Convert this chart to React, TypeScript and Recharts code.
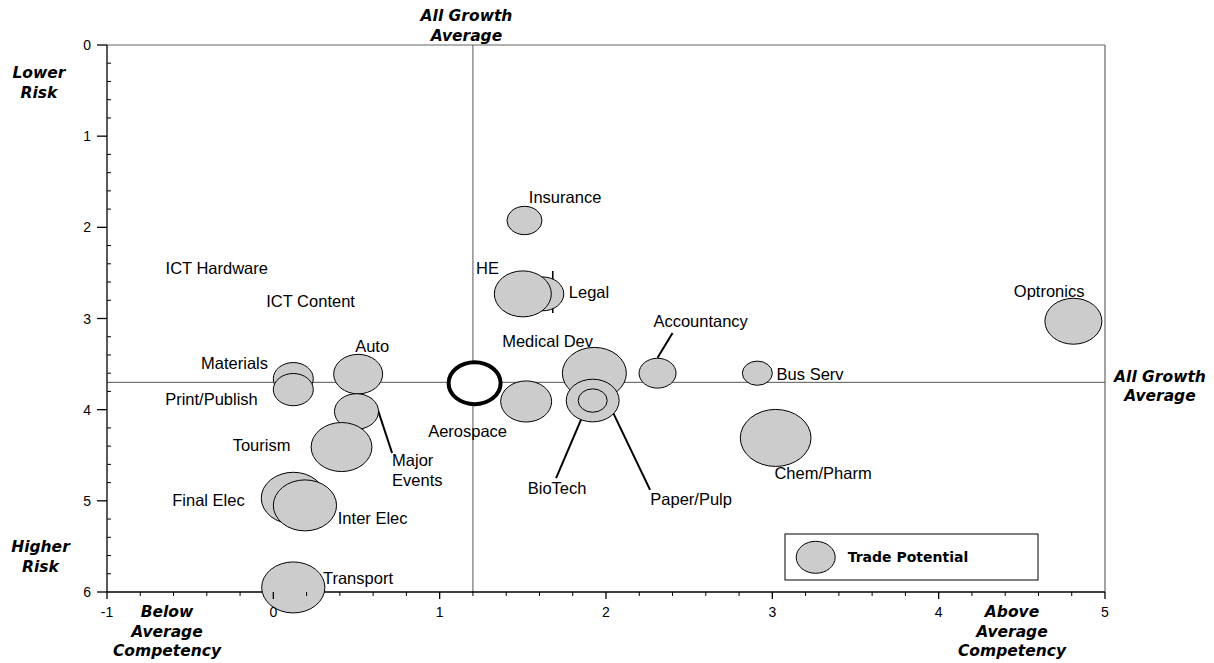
import React from 'react';
import { ScatterChart, Scatter, XAxis, YAxis, ZAxis, ReferenceLine } from 'recharts';

// sectors, in drawing order (later ones sit on top)
const sectorNames = [
  'Materials', 'Print/Publish', 'Auto', 'Major Events', 'Tourism', 'Final Elec', 'Inter Elec',
  'Transport', 'Insurance', 'Legal', 'HE', 'Medical Dev', 'Unlabelled', 'BioTech', 'Paper/Pulp',
  'Accountancy', 'Bus Serv', 'Chem/Pharm', 'Optronics',
];
const competency = [0.12, 0.12, 0.51, 0.5, 0.41, 0.12, 0.19, 0.12, 1.51, 1.62, 1.5, 1.93, 1.52, 1.92, 1.92, 2.31, 2.91, 3.02, 4.81];
const risk = [3.66, 3.78, 3.61, 4.02, 4.41, 4.97, 5.05, 5.95, 1.925, 2.73, 2.73, 3.6, 3.91, 3.9, 3.9, 3.6, 3.6, 4.31, 3.03];
const tradePotential = [16, 16, 24, 19.4, 37, 41, 40, 40, 12.3, 17.6, 32.5, 41, 26, 28, 8.4, 13.7, 9, 50, 32.5];

// highlighted sector (open ring)
const highlight = [{ name: 'Aerospace', x: 1.21, y: 3.71, z: 27 }];

const avgCompetency = 1.2;
const avgRisk = 3.7;

// label anchors (data units)
const labelNames = [
  'ICT Hardware', 'ICT Content', 'Materials', 'Print/Publish', 'Auto', 'Tourism', 'Final Elec',
  'Inter Elec', 'Transport', 'Aerospace', 'Insurance', 'HE', 'Legal', 'Medical Dev', 'Accountancy',
  'Bus Serv', 'BioTech', 'Paper/Pulp', 'Chem/Pharm', 'Optronics',
];
const labelX = [-0.34, 0.224, -0.233, -0.372, 0.594, -0.071, -0.39, 0.597, 0.509, 1.168, 1.754, 1.288, 1.898, 1.649, 2.569, 3.227, 1.706, 2.512, 3.305, 4.664];
const labelY = [2.446, 2.81, 3.49, 3.88, 3.3, 4.39, 4.99, 5.19, 5.85, 4.23, 1.667, 2.446, 2.71, 3.25, 3.03, 3.61, 4.86, 4.98, 4.69, 2.7];
const majorEventsLabel = { x: 0.714, y: 4.66, lines: ['Major', 'Events'] };

// leader lines [x1, y1, x2, y2]
const leaders = [
  [0.63, 4.01, 0.714, 4.475],
  [2.31, 3.43, 2.4, 3.16],
  [1.85, 4.11, 1.7, 4.75],
  [2.005, 3.89, 2.265, 4.88],
];
const legalMark = [1.68, 2.48, 1.68, 2.94];

const xTicks = [-1, -0.8, -0.6, -0.4, -0.2, 0, 0.2, 0.4, 0.6, 0.8, 1, 1.2, 1.4, 1.6, 1.8, 2, 2.2, 2.4, 2.6, 2.8, 3, 3.2, 3.4, 3.6, 3.8, 4, 4.2, 4.4, 4.6, 4.8, 5];
const yTicks = [0, 0.2, 0.4, 0.6, 0.8, 1, 1.2, 1.4, 1.6, 1.8, 2, 2.2, 2.4, 2.6, 2.8, 3, 3.2, 3.4, 3.6, 3.8, 4, 4.2, 4.4, 4.6, 4.8, 5, 5.2, 5.4, 5.6, 5.8, 6];

const sectors = sectorNames.map((name, i) => ({ name, x: competency[i], y: risk[i], z: tradePotential[i] }));
const labels = labelNames.map((name, i) => ({ name, x: labelX[i], y: labelY[i] }));

const ASPECT = 1.1136;
const TICK_FONT = '"Liberation Sans", Arial, sans-serif';
const LABEL_FONT = '"Liberation Sans", Arial, sans-serif';
const TITLE_FONT = '"DejaVu Sans", Verdana, sans-serif';

const isMajor = (v: number) => Math.abs(v - Math.round(v)) < 1e-6;

const Bubble = (props: any) => {
  const { cx, cy, size } = props;
  const r = Math.sqrt((size || 0) / Math.PI);
  return <ellipse cx={cx} cy={cy} rx={r * ASPECT} ry={r / ASPECT} fill="#cccccc" stroke="#000" strokeWidth={1} />;
};

const Ring = (props: any) => {
  const { cx, cy, size } = props;
  const r = Math.sqrt((size || 0) / Math.PI);
  return <ellipse cx={cx} cy={cy} rx={r * ASPECT} ry={r / ASPECT} fill="#fff" stroke="#000" strokeWidth={4} />;
};

const SectorLabel = (props: any) => {
  const { cx, cy, payload } = props;
  return (
    <text x={cx} y={cy} dy="0.36em" textAnchor="middle" fontFamily={LABEL_FONT} fontSize={16.5} fill="#000">
      {payload.name}
    </text>
  );
};

const MultiLabel = (props: any) => {
  const { cx, cy, payload } = props;
  return (
    <text x={cx} y={cy} textAnchor="start" fontFamily={LABEL_FONT} fontSize={16.5} fill="#000">
      {payload.lines.map((l: string, i: number) => (
        <tspan key={i} x={cx} y={cy - 4 + i * 20}>{l}</tspan>
      ))}
    </text>
  );
};

const YTick = (props: any) => {
  const { x, y, payload } = props;
  const v = payload.value;
  if (isMajor(v)) {
    return (
      <g>
        <line x1={x - 10} y1={y} x2={x} y2={y} stroke="#000" strokeWidth={1.3} />
        <text x={x - 16} y={y + 5} textAnchor="end" fontFamily={TICK_FONT} fontSize={14} fill="#000">{v}</text>
      </g>
    );
  }
  return <line x1={x} y1={y} x2={x + 4} y2={y} stroke="#000" strokeWidth={1} />;
};

const XTick = (props: any) => {
  const { x, y, payload } = props;
  const v = payload.value;
  if (isMajor(v)) {
    return (
      <g>
        <line x1={x} y1={y} x2={x} y2={y + 7} stroke="#000" strokeWidth={1.3} />
        <text x={x} y={y + 25} textAnchor="middle" fontFamily={TICK_FONT} fontSize={14} fill="#000">{Math.round(v)}</text>
      </g>
    );
  }
  return <line x1={x} y1={y} x2={x} y2={y + 4} stroke="#000" strokeWidth={1} />;
};

const Title = ({ x, y, lines }: { x: number; y: number; lines: string[] }) => (
  <text x={x} y={y} textAnchor="middle" fontFamily={TITLE_FONT} fontWeight="bold" fontStyle="italic" fontSize={15.5} fill="#000">
    {lines.map((l, i) => (
      <tspan key={i} x={x} y={y + i * 19.5}>{l}</tspan>
    ))}
  </text>
);

export default function App() {
  return (
    <ScatterChart width={1206} height={655} margin={{ top: 37, right: 109, bottom: 31, left: 0 }}>
      <XAxis
        type="number"
        dataKey="x"
        domain={[-1, 5]}
        ticks={xTicks}
        interval={0}
        tick={<XTick />}
        tickLine={false}
        tickSize={0}
        tickMargin={0}
        height={40}
        axisLine={{ stroke: '#000', strokeWidth: 1.3 }}
      />
      <YAxis
        type="number"
        dataKey="y"
        domain={[0, 6]}
        reversed
        ticks={yTicks}
        interval={0}
        tick={<YTick />}
        tickLine={false}
        tickSize={0}
        tickMargin={0}
        width={99}
        axisLine={{ stroke: '#000', strokeWidth: 1.3 }}
      />
      <ZAxis type="number" dataKey="z" domain={[0, 50]} range={[0, 3166]} />
      <ReferenceLine y={0} stroke="#666" strokeWidth={1.2} />
      <ReferenceLine x={5} stroke="#666" strokeWidth={1.2} />
      <ReferenceLine x={avgCompetency} stroke="#555" strokeWidth={1} />
      <ReferenceLine y={avgRisk} stroke="#555" strokeWidth={1} />
      {leaders.map((l, i) => (
        <ReferenceLine
          key={i}
          segment={[{ x: l[0], y: l[1] }, { x: l[2], y: l[3] }]}
          stroke="#000"
          strokeWidth={2}
        />
      ))}
      <Scatter name="Sectors" data={sectors} shape={<Bubble />} isAnimationActive={false} />
      <Scatter name="Highlight" data={highlight} shape={<Ring />} isAnimationActive={false} />
      <ReferenceLine
        segment={[{ x: legalMark[0], y: legalMark[1] }, { x: legalMark[2], y: legalMark[3] }]}
        stroke="#000"
        strokeWidth={1.5}
      />
      <Scatter name="Labels" data={labels} shape={<SectorLabel />} isAnimationActive={false} />
      <Scatter name="Labels2" data={[majorEventsLabel]} shape={<MultiLabel />} isAnimationActive={false} />
      <g>
        <Title x={31} y={70} lines={['Lower', 'Risk']} />
        <Title x={32.5} y={544} lines={['Higher', 'Risk']} />
        <Title x={458.5} y={13} lines={['All Growth', 'Average']} />
        <Title x={1152} y={373.5} lines={['All Growth', 'Average']} />
        <Title x={159} y={609} lines={['Below', 'Average', 'Competency']} />
        <Title x={1004} y={609} lines={['Above', 'Average', 'Competency']} />
        <rect x={777} y={526} width={253} height={46} fill="#fff" stroke="#000" strokeWidth={1} />
        <ellipse cx={807.7} cy={549.3} rx={19.5} ry={16} fill="#cccccc" stroke="#000" strokeWidth={1} />
        <text x={839.7} y={553.7} fontFamily={TITLE_FONT} fontWeight="bold" fontSize={14} fill="#000">Trade Potential</text>
      </g>
    </ScatterChart>
  );
}
